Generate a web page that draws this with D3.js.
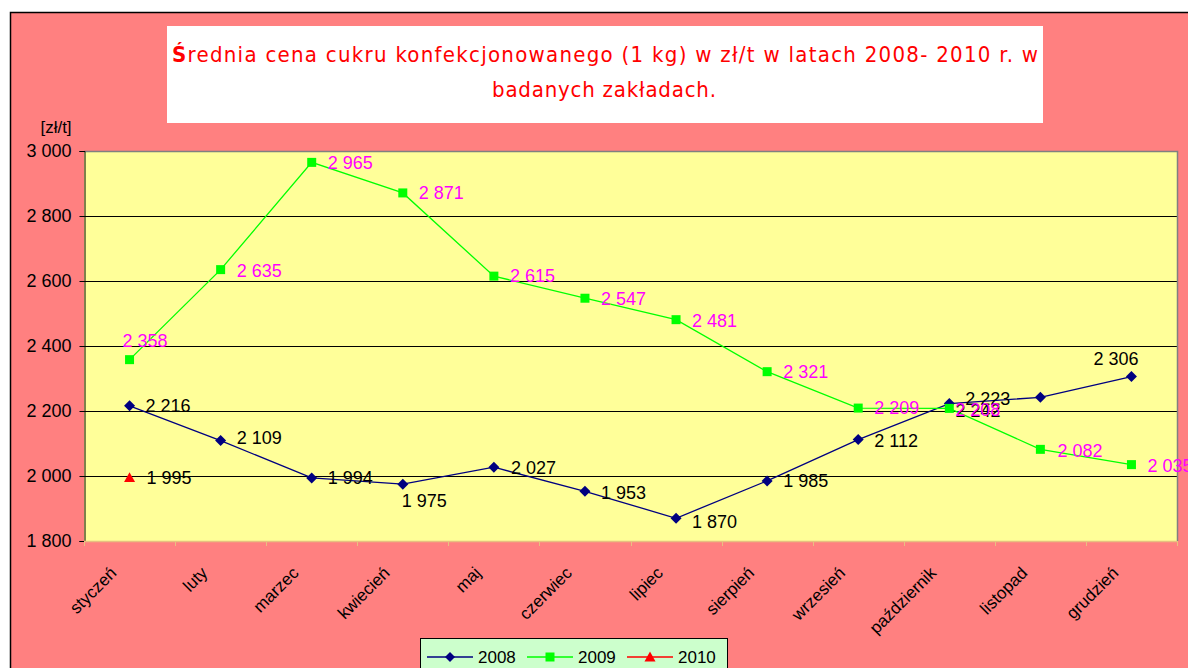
<!DOCTYPE html>
<html><head><meta charset="utf-8">
<script src="https://cdn.jsdelivr.net/npm/d3@7"></script>
<style>body{margin:0;background:#fff}svg{display:block}</style>
</head><body>
<svg id="c" width="1188" height="668"></svg>
<script>
const months = ["styczeń","luty","marzec","kwiecień","maj","czerwiec","lipiec","sierpień","wrzesień","październik","listopad","grudzień"];
const values2008 = [2216,2109,1994,1975,2027,1953,1870,1985,2112,2223,2242,2306];
const values2009 = [2358,2635,2965,2871,2615,2547,2481,2321,2209,2208,2082,2035];
const values2010 = [1995];
const yTicks = [1800,2000,2200,2400,2600,2800,3000];
const seriesNames = ["2008","2009","2010"];
// label placement offsets per point: [dx, dy, anchor]
const labelPos2008 = [[16,0,"start"],[16,-3,"start"],[16,0,"start"],[-1,17,"start"],[17,0,"start"],[16,1,"start"],[16,3,"start"],[16,0,"start"],[16,1,"start"],[16,-5,"start"],[-85,13,"start"],[7,-18,"end"]];
const labelPos2009 = [[-7,-19,"start"],[16,1,"start"],[16,0,"start"],[16,0,"start"],[16,0,"start"],[16,0,"start"],[16,1,"start"],[16,0,"start"],[16,0,"start"],[6,1,"start"],[17,1,"start"],[16,1,"start"]];
const labelPos2010 = [[17,0,"start"]];

const svg = d3.select("#c");
const fmt = v => d3.format(",")(v).replace(/,/g, " ");
const FONT = "Liberation Sans, Arial";

// chart area
svg.append("rect").attr("x",10.5).attr("y",12.5).attr("width",1200).attr("height",700)
  .attr("fill","#FF8080").attr("stroke","#000").attr("stroke-width",1.5);

// title
svg.append("rect").attr("x",167).attr("y",26).attr("width",876).attr("height",97).attr("fill","#fff");
const t1 = svg.append("text").attr("x",605).attr("y",62).attr("text-anchor","middle")
  .attr("font-family","DejaVu Sans Condensed, DejaVu Sans").attr("font-size",22).attr("fill","#FF0000")
  .attr("textLength",866).attr("lengthAdjust","spacing");
t1.append("tspan").attr("font-weight","bold").text("Ś");
t1.append("tspan").text("rednia cena cukru konfekcjonowanego (1 kg) w zł/t w latach 2008- 2010 r. w");
svg.append("text").attr("x",604).attr("y",97).attr("text-anchor","middle")
  .attr("font-family","DejaVu Sans Condensed, DejaVu Sans").attr("font-size",22).attr("fill","#FF0000")
  .attr("textLength",224).attr("lengthAdjust","spacing")
  .text("badanych zakładach.");

const L = 84, R = 1177, T = 151, B = 541;
const x = d3.scaleBand().domain(months).range([L,R]);
const y = d3.scaleLinear().domain([1800,3000]).range([B,T]);
const cx = m => x(m) + x.bandwidth()/2;

// plot area
svg.append("rect").attr("x",L).attr("y",T).attr("width",R-L).attr("height",B-T).attr("fill","#FFFF99");
// gridlines
svg.append("g").selectAll("line").data(yTicks.filter(v=>v>1800 && v<3000)).join("line")
  .attr("x1",L).attr("x2",R).attr("y1",d=>Math.round(y(d))+0.5).attr("y2",d=>Math.round(y(d))+0.5)
  .attr("stroke","#000").attr("stroke-width",1);
// plot border top/right
svg.append("path").attr("d",`M${L},${T+0.5}H${R+0.5}V${B}`).attr("fill","none").attr("stroke","#808080").attr("stroke-width",1.5);

// y axis
const yAxis = svg.append("g").attr("transform",`translate(${L+0.5},0)`)
  .call(d3.axisLeft(y).tickValues(yTicks).tickSize(5).tickPadding(8).tickFormat(fmt));
yAxis.select(".domain").attr("stroke","#000");
yAxis.selectAll("text").attr("font-family",FONT).attr("font-size",18).attr("fill","#000");
yAxis.selectAll("line").attr("stroke","#000");
svg.append("text").attr("x",56).attr("y",133).attr("text-anchor","middle")
  .attr("font-family",FONT).attr("font-size",17).text("[zł/t]");

// x axis
svg.append("line").attr("x1",L).attr("x2",R).attr("y1",B+0.5).attr("y2",B+0.5).attr("stroke","#E8C080").attr("stroke-width",1.5);
const edges = months.map(m=>x(m)).concat([R]);
svg.append("g").selectAll("line").data(edges).join("line")
  .attr("x1",d=>Math.round(d)+0.5).attr("x2",d=>Math.round(d)+0.5).attr("y1",B).attr("y2",B+5)
  .attr("stroke","#E8C080").attr("stroke-width",1);
svg.append("g").selectAll("text").data(months).join("text")
  .attr("transform",d=>`translate(${cx(d)-12},${B+33}) rotate(-45)`)
  .attr("text-anchor","end")
  .attr("font-family",FONT).attr("font-size",17).attr("fill","#000")
  .text(d=>d);

// symbols
const diamond = s => `M0,${-s}L${s},0L0,${s}L${-s},0Z`;
const symPath = (type, s) => type === "diamond" ? diamond(s)
  : type === "square" ? `M${-s},${-s}H${s}V${s}H${-s}Z`
  : `M0,${-s}L${s},${s*0.8}H${-s}Z`;

// series
const line = d3.line().x((d,i)=>cx(months[i])).y(d=>y(d));
function drawSeries(vals, color, symType, symSize, labelColor, pos){
  if(vals.length>1) svg.append("path").datum(vals).attr("d",line).attr("fill","none").attr("stroke",color).attr("stroke-width",1.3);
  svg.append("g").selectAll("path").data(vals).join("path")
    .attr("transform",(d,i)=>`translate(${cx(months[i])},${y(d)})`)
    .attr("d",symPath(symType,symSize)).attr("fill",color);
  return {vals, labelColor, pos};
}
const s1 = drawSeries(values2008,"#000080","diamond",5.5,"#000",labelPos2008);
const s2 = drawSeries(values2009,"#00FF00","square",4.5,"#FF00FF",labelPos2009);
const s3 = drawSeries(values2010,"#FF0000","triangle",5.5,"#000",labelPos2010);
[s1,s2,s3].forEach(s=>{
  svg.append("g").selectAll("text").data(s.vals).join("text")
    .attr("x",(d,i)=>cx(months[i])+s.pos[i][0]).attr("y",(d,i)=>y(d)+s.pos[i][1])
    .attr("dy","0.35em").attr("text-anchor",(d,i)=>s.pos[i][2])
    .attr("font-family",FONT).attr("font-size",18).attr("fill",s.labelColor)
    .text(d=>fmt(d));
});

// legend
svg.append("rect").attr("x",420.5).attr("y",638.5).attr("width",307).attr("height",40)
  .attr("fill","#CCFFCC").attr("stroke","#000").attr("stroke-width",1);
const legItems = [
  {name:seriesNames[0], color:"#000080", sym:"diamond", size:5},
  {name:seriesNames[1], color:"#00FF00", sym:"square", size:4.5},
  {name:seriesNames[2], color:"#FF0000", sym:"triangle", size:5.5}
];
const lg = svg.append("g").selectAll("g").data(legItems).join("g")
  .attr("transform",(d,i)=>`translate(${427+i*100},657)`);
lg.append("line").attr("x1",0).attr("x2",46).attr("stroke",d=>d.color).attr("stroke-width",1.3);
lg.append("path").attr("transform","translate(23,0)").attr("d",d=>symPath(d.sym,d.size)).attr("fill",d=>d.color);
lg.append("text").attr("x",51).attr("dy","0.35em").attr("font-family",FONT).attr("font-size",17).text(d=>d.name);
</script>
</body></html>
